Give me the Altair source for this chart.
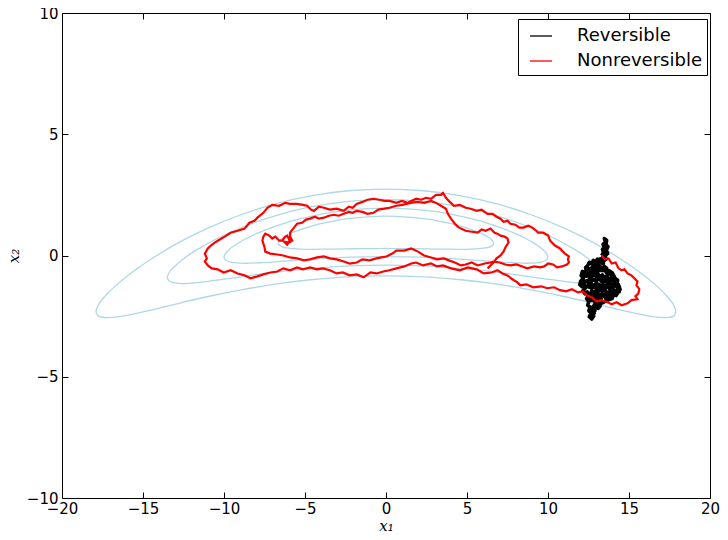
import altair as alt
import pandas as pd

# ---------------- data ----------------
X_TICKS = [-20, -15, -10, -5, 0, 5, 10, 15, 20]
Y_TICKS = [-10, -5, 0, 5, 10]
SERIES = ["Reversible", "Nonreversible"]
SERIES_COLORS = ["#000000", "#ff0000"]

CONTOUR_OUTER = [
    (17.90, -2.32), (17.75, -2.03), (17.29, -1.64), (16.54, -1.16), (15.50, -0.61), (14.20, -0.02),
    (12.66, 0.58), (10.90, 1.16), (8.95, 1.68), (6.85, 2.13), (4.64, 2.46), (2.34, 2.67), (0.00, 2.74),
    (-2.34, 2.67), (-4.64, 2.46), (-6.85, 2.13), (-8.95, 1.68), (-10.90, 1.16), (-12.66, 0.58),
    (-14.20, -0.02), (-15.50, -0.61), (-16.54, -1.16), (-17.29, -1.64), (-17.75, -2.03), (-17.90, -2.32),
    (-17.75, -2.50), (-17.29, -2.56), (-16.54, -2.53), (-15.50, -2.40), (-14.20, -2.20), (-12.66, -1.95),
    (-10.90, -1.68), (-8.95, -1.42), (-6.85, -1.18), (-4.64, -1.00), (-2.34, -0.88), (0.00, -0.84),
    (2.34, -0.88), (4.64, -1.00), (6.85, -1.18), (8.95, -1.42), (10.90, -1.68), (12.66, -1.95),
    (14.20, -2.20), (15.50, -2.40), (16.54, -2.53), (17.29, -2.56), (17.75, -2.50), (17.90, -2.32),
]
CONTOUR_SECOND = [
    (13.50, -0.91), (13.38, -0.70), (13.04, -0.44), (12.47, -0.12), (11.69, 0.23), (10.71, 0.60),
    (9.55, 0.98), (8.22, 1.33), (6.75, 1.65), (5.17, 1.93), (3.50, 2.13), (1.76, 2.26), (0.00, 2.30),
    (-1.76, 2.26), (-3.50, 2.13), (-5.17, 1.93), (-6.75, 1.65), (-8.22, 1.33), (-9.55, 0.98),
    (-10.71, 0.60), (-11.69, 0.23), (-12.47, -0.12), (-13.04, -0.44), (-13.38, -0.70), (-13.50, -0.91),
    (-13.38, -1.05), (-13.04, -1.13), (-12.47, -1.16), (-11.69, -1.12), (-10.71, -1.04), (-9.55, -0.94),
    (-8.22, -0.81), (-6.75, -0.68), (-5.17, -0.57), (-3.50, -0.48), (-1.76, -0.42), (0.00, -0.40),
    (1.76, -0.42), (3.50, -0.48), (5.17, -0.57), (6.75, -0.68), (8.22, -0.81), (9.55, -0.94),
    (10.71, -1.04), (11.69, -1.12), (12.47, -1.16), (13.04, -1.13), (13.38, -1.05), (13.50, -0.91),
]
CONTOUR_THIRD = [
    (10.00, -0.07), (9.91, 0.08), (9.66, 0.26), (9.24, 0.46), (8.66, 0.69), (7.93, 0.92),
    (7.07, 1.15), (6.09, 1.37), (5.00, 1.56), (3.83, 1.73), (2.59, 1.85), (1.31, 1.92), (0.00, 1.95),
    (-1.31, 1.92), (-2.59, 1.85), (-3.83, 1.73), (-5.00, 1.56), (-6.09, 1.37), (-7.07, 1.15),
    (-7.93, 0.92), (-8.66, 0.69), (-9.24, 0.46), (-9.66, 0.26), (-9.91, 0.08), (-10.00, -0.07),
    (-9.91, -0.18), (-9.66, -0.26), (-9.24, -0.30), (-8.66, -0.32), (-7.93, -0.30), (-7.07, -0.27),
    (-6.09, -0.22), (-5.00, -0.17), (-3.83, -0.12), (-2.59, -0.08), (-1.31, -0.06), (0.00, -0.05),
    (1.31, -0.06), (2.59, -0.08), (3.83, -0.12), (5.00, -0.17), (6.09, -0.22), (7.07, -0.27),
    (7.93, -0.30), (8.66, -0.32), (9.24, -0.30), (9.66, -0.26), (9.91, -0.18), (10.00, -0.07),
]
CONTOUR_INNER = [
    (6.65, 0.50), (6.59, 0.59), (6.42, 0.70), (6.14, 0.82), (5.76, 0.95), (5.27, 1.07),
    (4.70, 1.19), (4.05, 1.31), (3.33, 1.41), (2.55, 1.50), (1.72, 1.56), (0.87, 1.60), (0.00, 1.62),
    (-0.87, 1.60), (-1.72, 1.56), (-2.55, 1.50), (-3.33, 1.41), (-4.05, 1.31), (-4.70, 1.19),
    (-5.27, 1.07), (-5.76, 0.95), (-6.14, 0.82), (-6.42, 0.70), (-6.59, 0.59), (-6.65, 0.50),
    (-6.59, 0.42), (-6.42, 0.36), (-6.14, 0.31), (-5.76, 0.28), (-5.27, 0.26), (-4.70, 0.25),
    (-4.05, 0.26), (-3.33, 0.26), (-2.55, 0.27), (-1.72, 0.28), (-0.87, 0.28), (0.00, 0.29),
    (0.87, 0.28), (1.72, 0.28), (2.55, 0.27), (3.33, 0.26), (4.05, 0.26), (4.70, 0.25),
    (5.27, 0.26), (5.76, 0.28), (6.14, 0.31), (6.42, 0.36), (6.59, 0.42), (6.65, 0.50),
]

RED_PATH = [
    (13.31, 0.00), (13.50, -0.16), (13.74, -0.12), (13.93, -0.33), (14.17, -0.29), (14.35, -0.53),
    (14.54, -0.61), (14.72, -0.57), (14.91, -0.74), (15.15, -0.82), (15.33, -0.94), (15.52, -1.07),
    (15.46, -1.23), (15.64, -1.39), (15.58, -1.56), (15.40, -1.68), (15.52, -1.80), (15.15, -1.84),
    (14.91, -1.97), (14.54, -2.05), (14.23, -1.93), (13.93, -2.01), (13.68, -1.93), (13.31, -1.84),
    (13.01, -1.89), (12.70, -1.72), (12.39, -1.64), (12.15, -1.48), (11.84, -1.52), (11.48, -1.39),
    (11.11, -1.48), (10.74, -1.43), (10.37, -1.31), (9.95, -1.35), (9.58, -1.27), (9.09, -1.31),
    (8.66, -1.19), (8.29, -1.23), (8.11, -1.11), (7.80, -0.98), (7.50, -0.82), (7.19, -0.74),
    (6.88, -0.61), (6.52, -0.70), (6.03, -0.74), (5.60, -0.57), (5.05, -0.49), (4.56, -0.61),
    (4.01, -0.53), (3.52, -0.41), (3.15, -0.45), (2.78, -0.33), (2.29, -0.41), (1.86, -0.29),
    (1.56, -0.33), (1.13, -0.45), (0.64, -0.53), (0.21, -0.61), (-0.16, -0.66), (-0.59, -0.74),
    (-0.96, -0.70), (-1.38, -0.90), (-1.81, -0.78), (-2.24, -0.82), (-2.67, -0.70), (-3.04, -0.74),
    (-3.47, -0.61), (-3.89, -0.53), (-4.26, -0.57), (-4.69, -0.49), (-5.12, -0.57), (-5.49, -0.49),
    (-5.92, -0.61), (-6.34, -0.53), (-6.71, -0.66), (-7.14, -0.70), (-7.57, -0.78), (-7.94, -0.86),
    (-8.37, -0.94), (-8.73, -0.82), (-9.16, -0.74), (-9.59, -0.61), (-10.02, -0.70), (-10.39, -0.57),
    (-10.75, -0.53), (-11.00, -0.41), (-11.18, -0.25), (-11.06, -0.12), (-11.18, 0.08), (-11.00, 0.29),
    (-10.81, 0.41), (-10.57, 0.53), (-10.26, 0.66), (-9.96, 0.78), (-9.59, 0.94), (-9.16, 1.02),
    (-8.73, 1.11), (-8.43, 1.35), (-8.12, 1.43), (-7.94, 1.56), (-7.57, 1.76), (-7.32, 1.97),
    (-7.02, 2.09), (-6.59, 2.05), (-6.22, 2.17), (-5.92, 2.13), (-5.49, 2.13), (-5.12, 2.09),
    (-4.87, 2.05), (-4.63, 1.89), (-4.45, 1.84), (-4.14, 2.01), (-3.83, 1.97), (-3.47, 1.89),
    (-3.04, 1.93), (-2.61, 1.84), (-2.30, 2.01), (-2.06, 1.97), (-1.81, 2.13), (-1.45, 2.21),
    (-1.14, 2.30), (-0.77, 2.34), (-0.40, 2.30), (-0.10, 2.25), (0.21, 2.25), (0.64, 2.17),
    (1.00, 2.25), (1.31, 2.17), (1.56, 2.25), (1.86, 2.34), (2.17, 2.30), (2.47, 2.38),
    (2.78, 2.34), (3.09, 2.50), (3.39, 2.50), (3.52, 2.58), (3.70, 2.38), (3.94, 2.21),
    (4.19, 2.05), (4.56, 2.09), (4.92, 1.97), (5.23, 1.93), (5.60, 1.84), (5.90, 1.89),
    (6.27, 1.72), (6.58, 1.72), (6.82, 1.60), (7.07, 1.52), (7.25, 1.39), (7.50, 1.43),
    (7.68, 1.31), (7.99, 1.27), (8.23, 1.15), (8.48, 1.15), (8.78, 1.23), (9.03, 1.15),
    (9.27, 1.02), (9.39, 0.94), (9.70, 0.94), (10.01, 0.82), (10.13, 0.61), (10.31, 0.49),
    (10.43, 0.41), (10.74, 0.29), (10.92, 0.16), (11.05, 0.08), (11.29, -0.04), (11.23, -0.16),
    (11.29, -0.29), (11.17, -0.37), (10.86, -0.45), (10.56, -0.49), (10.31, -0.37), (10.01, -0.33),
    (9.76, -0.45), (9.52, -0.49), (9.15, -0.45), (8.72, -0.53), (8.41, -0.45), (8.05, -0.37),
    (7.68, -0.41), (7.37, -0.37), (7.01, -0.29), (6.64, -0.25), (6.45, -0.29), (6.09, -0.33),
    (5.66, -0.41), (5.29, -0.29), (4.92, -0.37), (4.62, -0.41), (4.25, -0.29), (3.88, -0.20),
    (3.58, -0.12), (3.15, -0.16), (2.78, -0.08), (2.35, 0.00), (1.98, 0.16), (1.56, 0.29),
    (1.13, 0.20), (0.64, 0.20), (0.39, 0.08), (0.02, -0.04), (-0.28, -0.08), (-0.59, -0.12),
    (-1.02, -0.20), (-1.45, -0.16), (-1.81, -0.29), (-2.24, -0.33), (-2.61, -0.25), (-3.04, -0.16),
    (-3.47, -0.12), (-3.83, -0.04), (-4.26, -0.08), (-4.69, -0.16), (-5.06, -0.20), (-5.49, -0.12),
    (-5.92, -0.08), (-6.34, 0.00), (-6.71, 0.04), (-7.14, 0.08), (-7.45, 0.16), (-7.51, 0.37),
    (-7.63, 0.61), (-7.57, 0.78), (-7.45, 0.90), (-7.20, 0.82), (-7.02, 0.70), (-6.83, 0.78),
    (-6.59, 0.61), (-6.41, 0.61), (-6.22, 0.78), (-6.10, 0.82), (-5.98, 0.66), (-5.85, 0.74),
    (-6.10, 0.45), (-6.28, 0.57), (-5.98, 0.53), (-5.79, 0.61), (-5.92, 0.78), (-5.92, 0.94),
    (-5.73, 1.11), (-5.49, 1.31), (-5.18, 1.35), (-4.94, 1.48), (-4.69, 1.52), (-4.38, 1.60),
    (-4.14, 1.52), (-3.83, 1.56), (-3.53, 1.64), (-3.22, 1.68), (-2.91, 1.64), (-2.61, 1.72),
    (-2.30, 1.80), (-2.06, 1.76), (-1.81, 1.84), (-1.45, 1.80), (-1.14, 1.72), (-0.77, 1.76),
    (-0.47, 1.89), (-0.10, 1.93), (0.21, 1.97), (0.64, 2.05), (1.00, 2.09), (1.25, 2.13),
    (1.56, 2.17), (1.92, 2.21), (2.35, 2.17), (2.78, 2.25), (3.09, 2.17), (3.39, 2.05),
    (3.70, 1.93), (3.82, 1.72), (4.01, 1.52), (4.25, 1.31), (4.43, 1.19), (4.62, 1.11),
    (4.92, 1.02), (5.29, 0.98), (5.66, 0.94), (5.90, 1.07), (6.15, 1.02), (6.45, 1.11),
    (6.70, 0.94), (6.88, 0.90), (7.07, 0.82), (7.31, 0.78), (7.50, 0.70), (7.56, 0.53),
    (7.37, 0.33), (7.25, 0.16), (7.07, 0.00), (6.82, -0.12), (6.64, -0.29), (6.45, -0.41),
    (6.27, -0.53),
]

BLACK_PATH = [
    (13.31, 0.00), (13.42, 0.12), (13.36, 0.25), (13.48, 0.33), (13.40, 0.46), (13.55, 0.55),
    (13.48, 0.70), (13.62, 0.62), (13.58, 0.45), (13.70, 0.36), (13.60, 0.22), (13.68, 0.08),
    (13.52, -0.02), (13.60, -0.15), (13.45, -0.22), (13.30, -0.12), (13.18, -0.25), (13.05, -0.15),
    (12.92, -0.28), (12.80, -0.20), (12.70, -0.35), (12.55, -0.28), (12.45, -0.42), (12.32, -0.50),
    (12.40, -0.65), (12.25, -0.72), (12.12, -0.66), (12.05, -0.82), (12.18, -0.95), (12.02, -1.05),
    (11.96, -1.20), (12.10, -1.28), (12.22, -1.18), (12.30, -1.35), (12.15, -1.45), (12.28, -1.58),
    (12.42, -1.50), (12.50, -1.65), (12.38, -1.78), (12.52, -1.90), (12.45, -2.05), (12.60, -2.12),
    (12.52, -2.28), (12.66, -2.38), (12.55, -2.52), (12.70, -2.62), (12.82, -2.50), (12.75, -2.35),
    (12.90, -2.28), (12.85, -2.12), (13.00, -2.05), (13.10, -2.18), (13.22, -2.08), (13.15, -1.92),
    (13.30, -1.85), (13.25, -1.70), (13.42, -1.62), (13.55, -1.75), (13.68, -1.68), (13.80, -1.80),
    (13.92, -1.70), (14.05, -1.60), (14.20, -1.65), (14.32, -1.52), (14.45, -1.40), (14.38, -1.25),
    (14.25, -1.18), (14.30, -1.02), (14.15, -0.95), (14.02, -1.05), (13.90, -0.92), (13.95, -0.78),
    (13.82, -0.70), (13.70, -0.80), (13.58, -0.68), (13.62, -0.52), (13.48, -0.45), (13.35, -0.55),
    (13.22, -0.45), (13.10, -0.58), (12.98, -0.50), (12.85, -0.62), (12.72, -0.55), (12.62, -0.70),
    (12.50, -0.82), (12.58, -0.95), (12.45, -1.08), (12.55, -1.22), (12.68, -1.15), (12.80, -1.28),
    (12.92, -1.18), (13.05, -1.30), (13.18, -1.20), (13.30, -1.32), (13.42, -1.22), (13.55, -1.35),
    (13.68, -1.25), (13.80, -1.38), (13.92, -1.28), (14.05, -1.40), (13.95, -1.52), (13.82, -1.48),
    (13.70, -1.55), (13.58, -1.48), (13.45, -1.40), (13.32, -1.48), (13.20, -1.40), (13.08, -1.52),
    (12.95, -1.45), (12.82, -1.55), (12.70, -1.45), (12.62, -1.58), (12.72, -1.72), (12.85, -1.68),
    (12.98, -1.80), (12.90, -1.95), (13.05, -1.90), (13.18, -1.75), (13.05, -1.62), (13.00, -1.40),
    (13.00, -1.10), (12.88, -0.98), (12.75, -1.02), (12.68, -0.88), (12.80, -0.78), (12.95, -0.85),
    (13.08, -0.75), (13.20, -0.88), (13.35, -0.80), (13.48, -0.92), (13.62, -0.85), (13.75, -0.98),
    (13.68, -1.10), (13.52, -1.05), (13.38, -1.12), (13.25, -1.02), (13.12, -0.95), (13.02, -0.68),
    (12.90, -0.40), (13.05, -0.32), (13.18, -0.15), (13.30, -0.30), (13.42, -0.35), (13.38, -0.05),
    (13.50, 0.10), (13.40, -0.10), (13.25, -0.20), (13.10, -0.40), (12.85, -0.45), (12.60, -0.55),
    (12.40, -0.55), (12.20, -0.75), (12.35, -0.85), (12.60, -0.70), (12.85, -0.72), (13.15, -0.62),
    (13.45, -0.62), (13.75, -0.62), (13.95, -0.70), (14.10, -0.88), (13.85, -1.05), (13.55, -1.00),
    (13.25, -0.95), (12.95, -1.02), (12.65, -1.00), (12.35, -1.05), (12.15, -1.15), (12.30, -1.25),
    (12.60, -1.32), (12.90, -1.32), (13.20, -1.25), (13.50, -1.25), (13.80, -1.15), (14.15, -1.25),
    (14.35, -1.35), (14.20, -1.48), (13.90, -1.60), (13.60, -1.60), (13.30, -1.60), (13.00, -1.70),
    (12.70, -1.62), (12.45, -1.70), (12.60, -1.85), (12.80, -1.85), (13.05, -1.98), (12.85, -2.05),
    (12.70, -2.20), (12.85, -2.38), (12.70, -2.48), (12.62, -2.30), (12.75, -2.15), (12.95, -2.15),
    (13.15, -2.02), (13.35, -1.95), (13.65, -1.85), (13.95, -1.78), (14.10, -1.55), (14.40, -1.50),
    (14.35, -1.20), (14.10, -1.10), (14.22, -0.95),
]

# ---------------- tables ----------------
rows = []
for name, pts in [("inner", CONTOUR_INNER), ("third", CONTOUR_THIRD),
                  ("second", CONTOUR_SECOND), ("outer", CONTOUR_OUTER)]:
    for i, (x, y) in enumerate(pts):
        rows.append({"contour": name, "i": i, "x": x, "y": y})
contours = pd.DataFrame(rows)

black_df = pd.DataFrame([{"i": i, "x": x, "y": y, "series": SERIES[0]} for i, (x, y) in enumerate(BLACK_PATH)])
red_df = pd.DataFrame([{"i": i, "x": x, "y": y, "series": SERIES[1]} for i, (x, y) in enumerate(RED_PATH)])

# ---------------- chart ----------------
W, H = 648, 485
xs = alt.Scale(domain=[-20, 20], nice=False, zero=False)
ys = alt.Scale(domain=[-10, 10], nice=False, zero=False)

label_style = dict(labelFont="DejaVu Sans", labelFontSize=15, labelColor="black",
                   labelFlush=False, labelOverlap=False, labelBound=False, grid=False, domain=False)
title_style = dict(titleFont="DejaVu Serif", titleFontStyle="italic", titleFontWeight="normal",
                   titleFontSize=15, titleColor="black")

main_x = alt.Axis(orient="bottom", values=X_TICKS, ticks=False, tickSize=0, labelPadding=3,
                  title="x₁", titlePadding=2, **label_style, **title_style)
main_y = alt.Axis(orient="left", values=Y_TICKS, ticks=False, tickSize=0, labelPadding=4,
                  title="x₂", titlePadding=5, **label_style, **title_style)

tick_style = dict(labels=False, domain=False, grid=False, ticks=True, tickSize=6,
                  tickColor="black", tickWidth=1, title=None)
# ticks pointing inward along every edge of the frame
x_ticks_bottom_edge = alt.Axis(orient="top", offset=-H, values=X_TICKS, **tick_style)
x_ticks_top_edge = alt.Axis(orient="bottom", offset=-H, values=X_TICKS, **tick_style)
y_ticks_left_edge = alt.Axis(orient="right", offset=-W, values=Y_TICKS, **tick_style)
y_ticks_right_edge = alt.Axis(orient="left", offset=-W, values=Y_TICKS, **tick_style)

color_scale = alt.Scale(domain=SERIES, range=SERIES_COLORS)
legend = alt.Legend(title=None, orient="none", legendX=456, legendY=6, direction="vertical",
                    strokeColor="black", fillColor="white", padding=5, cornerRadius=0,
                    symbolType="stroke", symbolSize=484, symbolStrokeWidth=1.3, symbolOffset=6,
                    labelFont="DejaVu Sans", labelFontSize=18, labelColor="black",
                    labelOffset=24, rowPadding=4)

contour_layer = alt.Chart(contours).mark_line(
    color="#add8e6", strokeWidth=1.3, interpolate="catmull-rom"
).encode(
    x=alt.X("x:Q", scale=xs, axis=main_x),
    y=alt.Y("y:Q", scale=ys, axis=main_y),
    detail="contour:N",
    order="i:Q",
)

black_layer = alt.Chart(black_df).mark_line(strokeWidth=3.6, strokeJoin="round").encode(
    x=alt.X("x:Q", scale=xs, axis=x_ticks_bottom_edge),
    y=alt.Y("y:Q", scale=ys, axis=y_ticks_left_edge),
    color=alt.Color("series:N", scale=color_scale, legend=legend),
    order="i:Q",
)

red_layer = alt.Chart(red_df).mark_line(strokeWidth=2.2).encode(
    x=alt.X("x:Q", scale=xs, axis=x_ticks_top_edge),
    y=alt.Y("y:Q", scale=ys, axis=y_ticks_right_edge),
    color=alt.Color("series:N", scale=color_scale, legend=legend),
    order="i:Q",
)

chart = alt.layer(contour_layer, black_layer, red_layer).resolve_axis(
    x="independent", y="independent"
).properties(
    width=W, height=H,
    autosize=alt.AutoSizeParams(type="none"),
    padding={"left": 54, "top": 5, "right": 10, "bottom": 34},
    background="white",
).configure_view(stroke="black", strokeWidth=1)

chart.save("out.html", embed_options={"renderer": "svg", "actions": False})
